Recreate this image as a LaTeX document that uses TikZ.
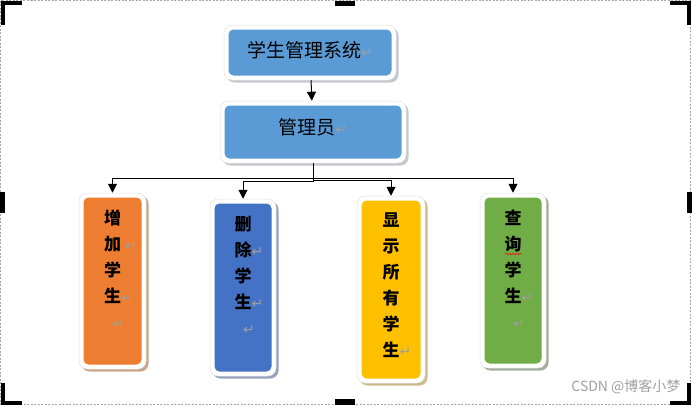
\documentclass[tikz,border=0pt]{standalone}
\usepackage{fontspec}
\newfontfamily\cjk{Noto Sans CJK SC}
\newfontfamily\symfont{DejaVu Sans}
\usetikzlibrary{positioning,shadows,arrows.meta,decorations.pathmorphing}
\definecolor{sysblue}{HTML}{5B9BD5}
\definecolor{sysshade}{HTML}{C4C8CE}
\definecolor{addorange}{HTML}{ED7D31}
\definecolor{addshade}{HTML}{C9A68A}
\definecolor{delblue}{HTML}{4472C4}
\definecolor{delshade}{HTML}{95A3BD}
\definecolor{showyellow}{HTML}{FFC000}
\definecolor{showshade}{HTML}{CDBB8C}
\definecolor{querygreen}{HTML}{70AD47}
\definecolor{queryshade}{HTML}{A3AD9B}
\newcommand{\ret}{{\symfont\mdseries\fontsize{14}{14}\selectfont\color{gray!75}↵}}
\begin{document}
\begin{tikzpicture}
[x=1pt,y=-1pt,
 boxdecorate/.style 2 args={rounded corners=8pt,draw=black!12,fill=white,line width=0.5pt,
   drop shadow={shadow xshift=2.5pt,shadow yshift=-2.5pt,opacity=1,fill=#2},
   path picture={\fill[#1,rounded corners=5pt]
     ([shift={(4.5pt,-4.5pt)}]path picture bounding box.north west) rectangle
     ([shift={(-4.5pt,4.5pt)}]path picture bounding box.south east);}},
 topdecorate/.style={font=\cjk\fontsize{19}{19}\selectfont,inner sep=0pt},
 labeldecorate/.style={font=\cjk\bfseries\fontsize{17}{26}\selectfont,align=center,inner sep=0pt},
 linedecorate/.style={-{Triangle[width=9pt,length=9pt]},line width=1pt},
 markdecorate/.style={line width=4pt,black}]
\useasboundingbox (0,0) rectangle (692,407);
%% canvas frame and handles
\draw[gray!70,dashed,dash pattern=on 2pt off 1.5pt] (0.5,0.5) rectangle (690.5,404.5);
\draw[markdecorate] (3,25) -- (3,3) -- (22,3);
\draw[markdecorate] (670,3) -- (689,3) -- (689,25);
\draw[markdecorate] (3,383) -- (3,403) -- (22,403);
\draw[markdecorate] (670,403) -- (689,403) -- (689,383);
\fill (335,1) rectangle (355,6);
\fill (335,399) rectangle (355,405);
\fill (0,192) rectangle (5,213);
\fill (687,192) rectangle (692,213);
%% top boxes
\node (sys) at (310,52.5) [boxdecorate={sysblue}{sysshade},minimum width=172pt,minimum height=55pt,topdecorate,text depth=6pt] {学生管理系统\ret};
\node (mgr) at (313,132) [boxdecorate={sysblue}{sysshade},minimum width=186pt,minimum height=62pt,topdecorate,text depth=12pt] {管理员\ret};
%% function boxes
\foreach \nodename/\x/\y/\w/\h/\col/\shd/\txt in {
  add/112.5/281/67/176/addorange/addshade/{增\\加\rlap{\ \ret}\\学\\生\rlap{\ret}\\\rlap{\ret}},
  del/243/287.5/66/177/delblue/delshade/{删\\除\rlap{\ret}\\学\\生\rlap{\ret}\\\rlap{\ret}},
  show/391/289.5/68/187/showyellow/showshade/{显\\示\\所\\有\\学\\生\rlap{\ret}},
  query/513/280.5/66/175/querygreen/queryshade/{查\\询\\学\\生\rlap{\ret}\\\rlap{\ret}}} {
  \node (\nodename) at (\x,\y) [boxdecorate={\col}{\shd},minimum width=\w pt,minimum height=\h pt] {};
  \node (\nodename txt) [labeldecorate,below=17pt of \nodename.north] {\txt};
}
%% edges
\draw[linedecorate] (sys) -- (mgr);
\foreach \endnode/\drop in {add/15, del/18, show/17, query/15} {
  \draw[linedecorate] (mgr.south) -- ++(0,\drop) -| (\endnode.north);
}
%% spelling mark and watermark
\draw[red,line width=0.5pt,decorate,decoration={snake,amplitude=0.8pt,segment length=3.5pt}] (505,254) -- (522,254);
\node (mark) at (684,387) [anchor=east,text=gray!75,font=\cjk\fontsize{14}{14}\selectfont] {CSDN @博客小梦};
\end{tikzpicture}
\end{document}
